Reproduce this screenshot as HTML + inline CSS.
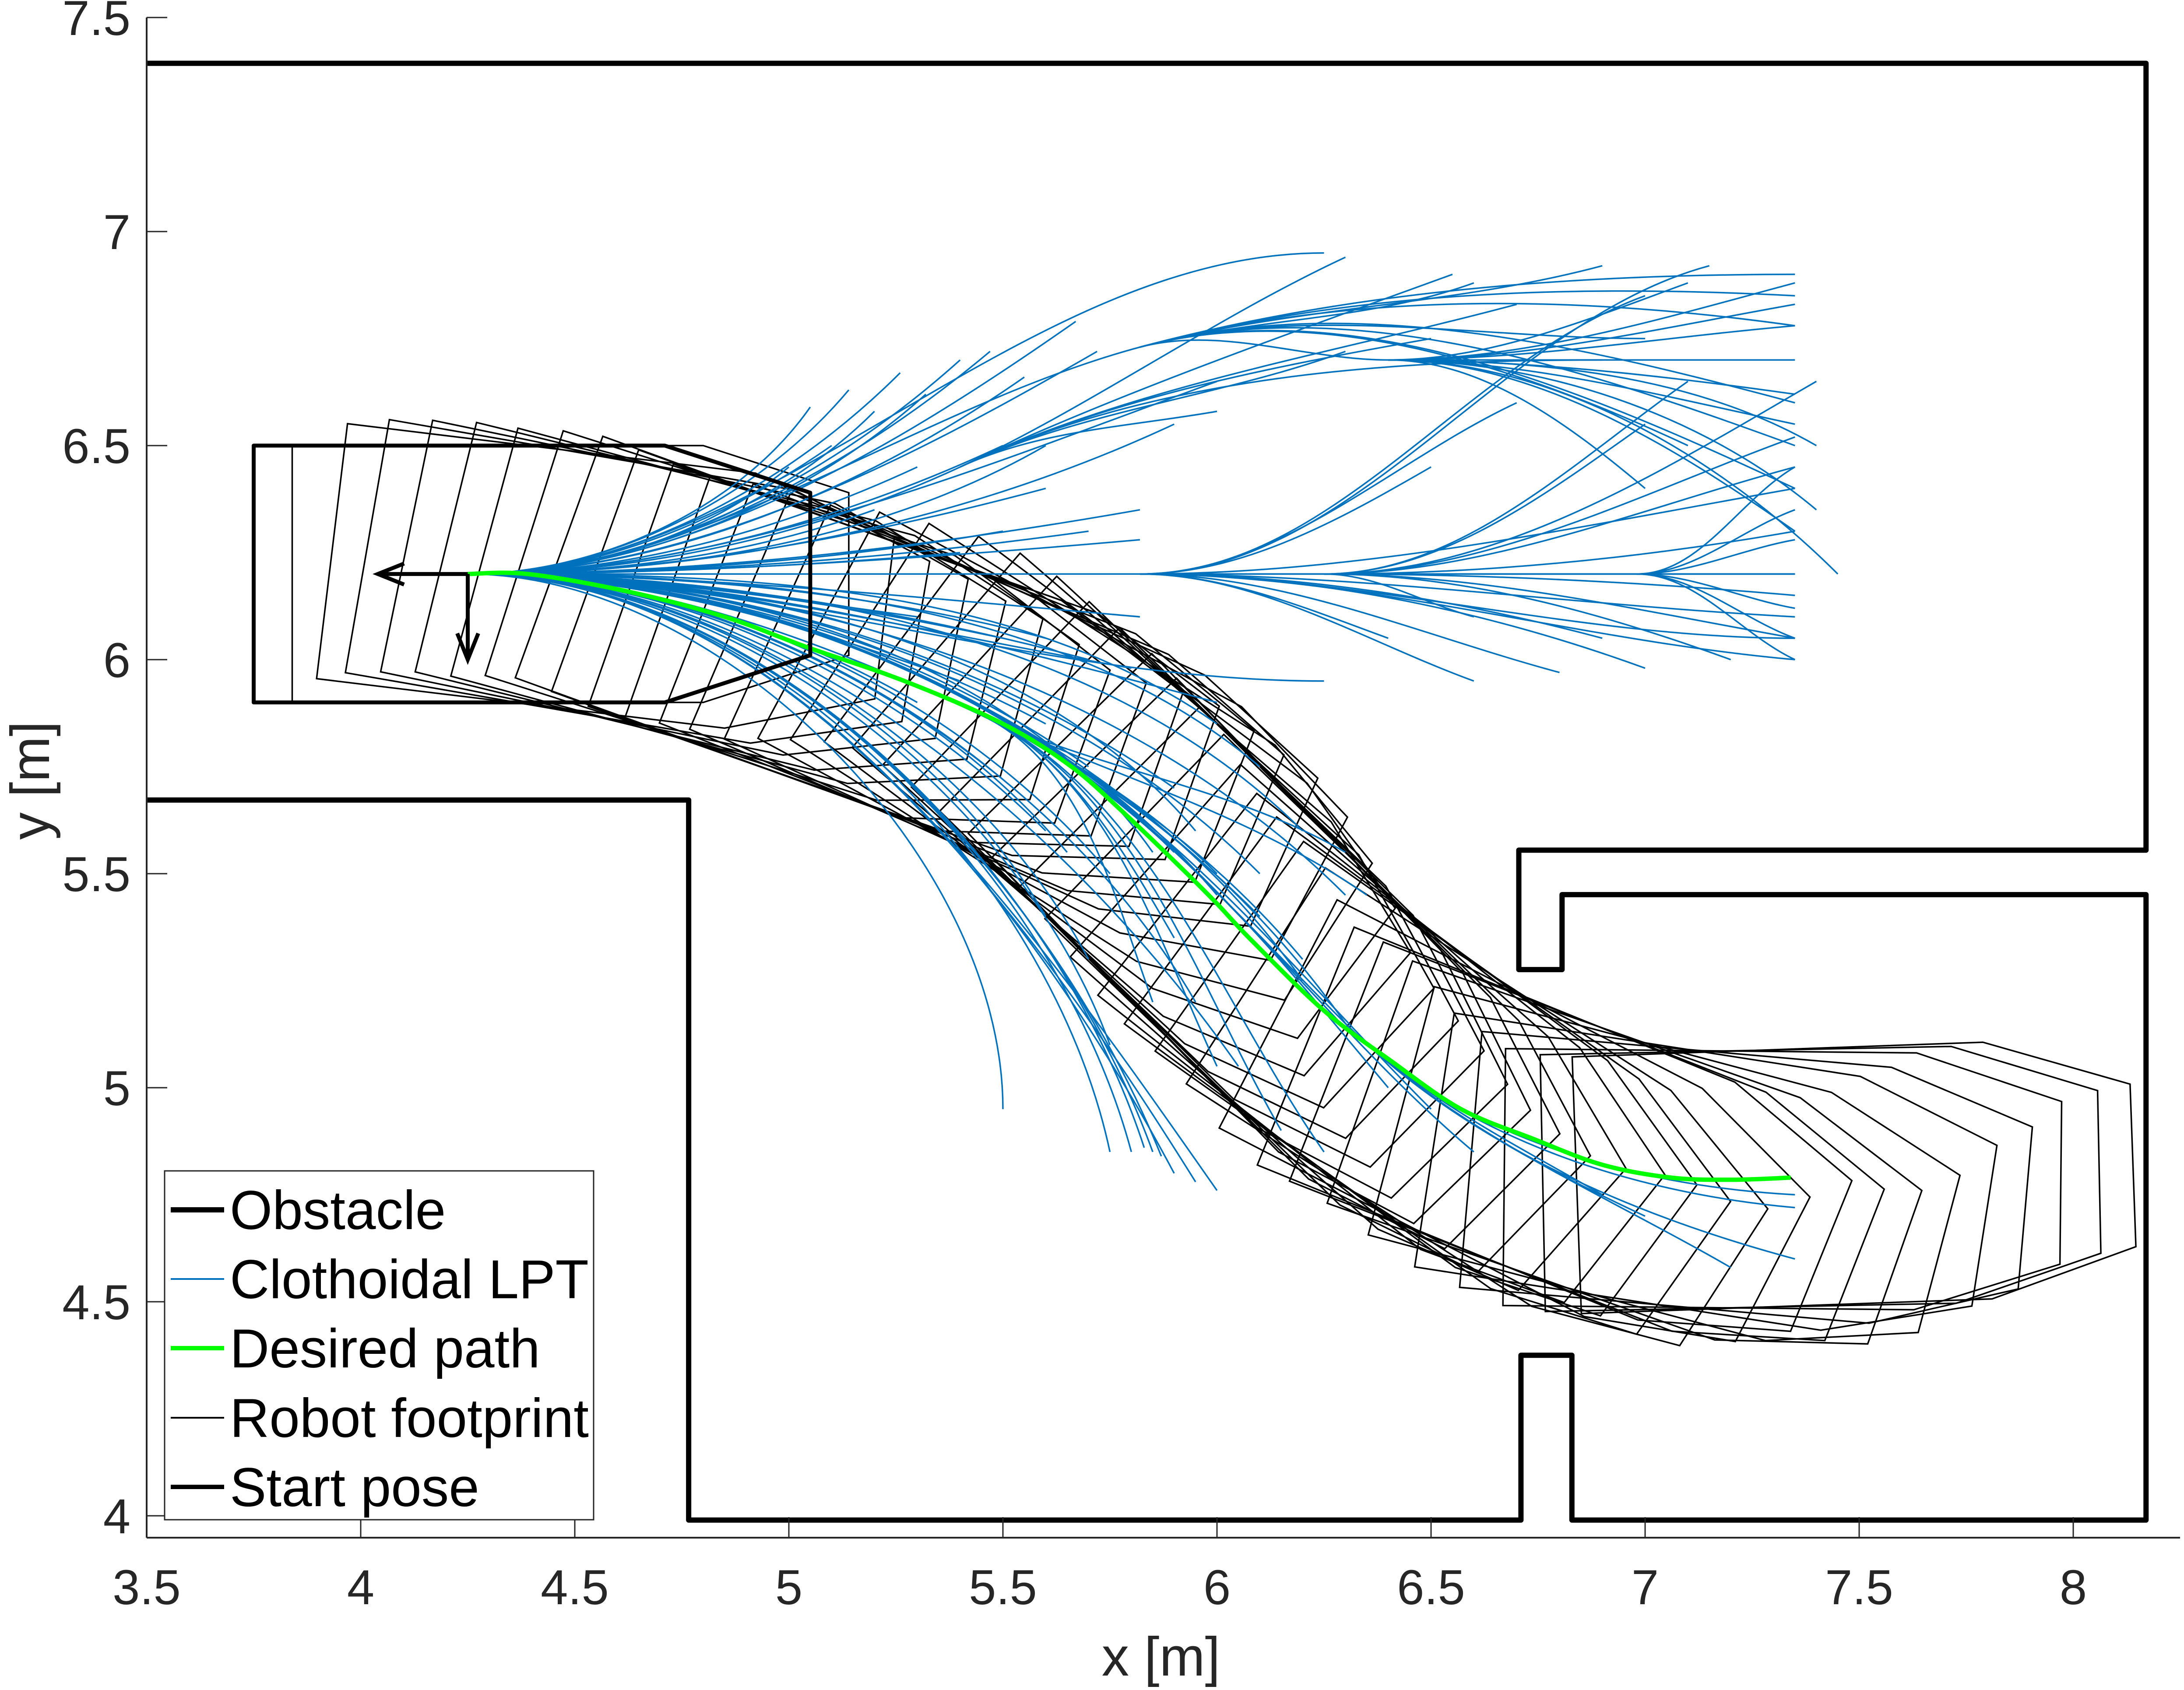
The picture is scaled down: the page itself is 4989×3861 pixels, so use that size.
<!DOCTYPE html>
<html><head><meta charset="utf-8"><style>
html,body{margin:0;padding:0;background:#fff;}
svg{display:block;}
text{font-family:"Liberation Sans",Arial,sans-serif;}
</style></head><body>
<svg id="chart" xmlns="http://www.w3.org/2000/svg" width="4989" height="3861" viewBox="0 0 4989 3861">
<rect width="4989" height="3861" fill="#fff"/>
<g id="plot"></g>
<g id="axes"></g>
<g id="legend">
<rect x="376" y="2675" width="980" height="797" fill="#fff" stroke="#262626" stroke-width="3"/>
<g><line x1="390" y1="2764" x2="512" y2="2764" stroke="#000" stroke-width="12"/><text x="525" y="2808" font-size="125">Obstacle</text></g>
<g><line x1="390" y1="2922" x2="512" y2="2922" stroke="#0072BD" stroke-width="4"/><text x="525" y="2966" font-size="125">Clothoidal LPT</text></g>
<g><line x1="390" y1="3080" x2="512" y2="3080" stroke="#00FF00" stroke-width="10"/><text x="525" y="3124" font-size="125">Desired path</text></g>
<g><line x1="390" y1="3239" x2="512" y2="3239" stroke="#000" stroke-width="4"/><text x="525" y="3283" font-size="125">Robot footprint</text></g>
<g><line x1="390" y1="3397" x2="512" y2="3397" stroke="#000" stroke-width="10"/><text x="525" y="3441" font-size="125">Start pose</text></g>
</g>
</svg>
<script>
// ---- data ----
const xTicks=[3.5,4,4.5,5,5.5,6,6.5,7,7.5,8];
const xTickLabels=["3.5","4","4.5","5","5.5","6","6.5","7","7.5","8"];
const yTicks=[4,4.5,5,5.5,6,6.5,7,7.5];
const yTickLabels=["4","4.5","5","5.5","6","6.5","7","7.5"];
const obsX=[3.5,8.17,8.17,6.705,6.705,6.806,6.806,8.17,8.17,6.829,6.829,6.71,6.71,4.766,4.766,3.5];
const obsY=[7.393,7.393,5.555,5.555,5.276,5.276,5.451,5.451,3.99,3.99,4.375,4.375,3.99,3.99,5.672,5.672];
const pathX=[4.25,4.39,4.62,4.85,5.04,5.27,5.50,5.66,5.79,5.92,6.00,6.08,6.25,6.41,6.57,6.74,6.90,7.06,7.20,7.34];
const pathY=[6.20,6.20,6.16,6.10,6.03,5.95,5.85,5.75,5.635,5.51,5.43,5.345,5.18,5.06,4.95,4.88,4.82,4.79,4.785,4.79];
const footS=[0.09,0.18,0.26,0.35,0.44,0.53,0.62,0.70,0.79,0.88,0.97,1.06,1.14,1.23,1.32,1.41,1.50,1.58,1.67,1.76,1.85,1.94,2.02,2.11,2.20,2.29,2.38,2.46,2.55,2.64,2.73,2.82,2.90,2.99,3.08,3.17,3.26,3.34,3.43,3.52];
const shapeX=[-0.5,-0.5,0.46,0.8,0.8,0.46];
const shapeY=[-0.3,0.3,0.3,0.19,-0.19,-0.3];
const startX=4.25, startY=6.2, startH=0;
const nodeX=[4.25,5.82,5.82,6.25,6.40,6.98,5.40,5.45,6.30];
const nodeY=[6.20,6.20,6.73,6.20,6.70,6.20,6.45,5.87,5.15];
const nodeH=[0,0,15,0,0,0,25,-25,-45];
const curveFrom=[
0,0,0,0,0,0,0,0,0,0,0,0,0,0,0,0,0,0,0,0,0,0,0,0,0,0,
0,0,0,0,0,0,0,0,0,0,0,0,0,0,0,0,0,0,0,0,0,0,0,0,0,
1,1,1,1,1,1,1,1,1,1,1,1,1,1,1,
2,2,2,2,2,2,2,2,2,2,2,
3,3,3,3,3,3,3,3,3,3,3,
4,4,4,4,4,4,4,4,4,4,4,4,
5,5,5,5,5,5,5,
6,6,6,6,6,6,6,
7,7,7,7,7,7,7,7,7,7,7,7,7,7,7,
8,8,8,8,8,8,
0,0,0,0,0,0,0,0,0,0,0,0,0,0,0,0,0,0,0,0];
const curveEndX=[
5.05,5.14,5.20,5.26,5.32,5.40,5.47,5.55,5.67,5.72,6.25,5.9,5.6,5.0,5.1,5.4,5.82,6.0,5.82,5.82,5.82,5.82,5.6,6.25,5.8,6.0,
5.45,5.3,5.5,5.6,5.5,5.75,5.80,5.83,5.85,5.87,5.9,5.95,6.0,5.75,5.95,6.05,5.6,5.7,6.2,6.1,6.0,6.3,5.95,5.85,6.2,
7.35,7.35,6.98,7.35,7.35,6.5,6.7,7.0,7.15,6.6,6.8,7.35,6.9,7.0,6.4,
6.9,7.35,7.35,7.35,7.35,7.0,7.1,7.35,6.40,7.35,6.6,
7.35,7.35,7.35,7.0,7.35,7.35,7.2,7.35,6.6,7.1,7.4,
7.35,7.35,7.35,7.35,7.35,7.4,7.4,7.35,7.45,7.35,7.1,7.0,
7.35,7.35,7.35,7.35,7.35,7.35,7.35,
6.3,6.55,6.3,6.7,6.0,6.5,6.9,
6.2,6.3,6.4,6.5,6.1,6.0,6.6,6.3,6.35,5.9,5.85,6.0,6.30,6.15,6.25,
7.35,7.35,7.35,7.2,6.9,7.0,
5.3,5.5,5.2,5.6,5.5,5.7,5.4,5.3,5.5,5.7,5.4,5.6,5.7,5.8,5.9,6.0,5.75,5.65,5.9,6.1];
const curveEndY=[
6.59,6.63,6.58,6.67,6.62,6.70,6.72,6.66,6.79,6.72,6.95,6.55,6.5,6.45,6.5,6.45,6.73,6.65,6.35,6.2,6.28,6.1,6.05,5.95,5.98,5.9,
5.87,5.9,5.72,5.6,4.95,4.85,4.85,4.86,4.85,4.84,4.80,4.78,4.76,5.1,5.2,5.05,5.4,5.3,5.6,5.75,5.85,5.45,5.6,5.55,5.25,
6.2,6.0,6.2,6.4,6.1,6.45,6.6,6.85,6.92,5.95,5.97,6.05,6.05,5.98,6.05,
6.92,6.9,6.85,6.6,6.5,6.75,6.5,6.4,6.70,6.78,6.88,
6.2,6.45,6.52,6.55,6.3,6.05,6.0,6.15,6.1,6.65,6.65,
6.88,6.83,6.7,6.62,6.55,6.5,6.35,6.3,6.2,6.78,6.88,6.4,
6.45,6.35,6.28,6.2,6.12,6.05,6.0,
6.94,6.9,6.72,6.83,6.58,6.75,6.7,
5.3,5.15,5.0,4.95,5.4,5.5,4.85,5.55,5.45,5.35,5.2,5.05,5.15,4.9,4.85,
4.72,4.75,4.6,4.58,4.75,4.7,
6.45,6.5,6.35,6.4,6.3,6.3,6.25,6.1,6.05,6.0,5.95,5.85,5.75,5.65,5.55,5.45,5.5,5.55,5.7,5.5];
const curveEndH=[
55,50,45,45,42,42,40,35,35,30,0,25,30,40,35,25,15,20,10,0,5,-5,-15,0,-10,-15,
-25,-30,-40,-45,-90,-78,-75,-72,-70,-68,-62,-58,-55,-70,-60,-55,-60,-62,-45,-40,-35,-45,-50,-55,-55,
0,-5,0,10,-3,30,25,20,15,-20,-15,0,-15,-20,-20,
15,0,-3,-15,-20,0,-25,-25,0,-8,20,
0,15,20,35,10,-10,-20,-5,-15,35,30,
15,10,0,-8,-12,-30,-40,-35,-45,5,20,-40,
30,20,10,0,-10,-20,-25,
25,20,20,15,10,10,0,
-50,-55,-50,-45,-45,-45,-40,-30,-35,-60,-70,-65,-45,-60,-55,
-5,-3,-15,-30,-30,-25,
25,25,20,15,10,8,5,-8,-12,-15,-20,-28,-35,-40,-45,-50,-50,-50,-35,-45];

// ---- axis functions ----
const X0=335, Y0=40, S=978;
function X(x){return X0+(x-3.5)*S;}
function Y(y){return Y0+(7.5-y)*S;}
const NS="http://www.w3.org/2000/svg";
function mk(tag,attrs,parent){const e=document.createElementNS(NS,tag);for(const k in attrs)e.setAttribute(k,attrs[k]);parent.appendChild(e);return e;}
const plot=document.getElementById('plot');
const axes=document.getElementById('axes');
const rad=d=>d*Math.PI/180;

// footprints (behind)
const gFoot=mk('g',{},plot);


let cum=[0];
for(let i=1;i<pathX.length;i++)cum.push(cum[i-1]+Math.hypot(pathX[i]-pathX[i-1],pathY[i]-pathY[i-1]));
function at(s){s=Math.max(0,Math.min(cum[cum.length-1],s));for(let i=1;i<cum.length;i++){if(s<=cum[i]){const t=(s-cum[i-1])/(cum[i]-cum[i-1]||1);return [pathX[i-1]+t*(pathX[i]-pathX[i-1]),pathY[i-1]+t*(pathY[i]-pathY[i-1])];}}return [pathX[pathX.length-1],pathY[pathY.length-1]];}
function fpPoints(px,py,h){let pts=[];for(let k=0;k<shapeX.length;k++){const c=Math.cos(h),s=Math.sin(h);pts.push(X(px+shapeX[k]*c-shapeY[k]*s).toFixed(1)+','+Y(py+shapeX[k]*s+shapeY[k]*c).toFixed(1));}return pts.join(' ');}
footS.forEach((s,i)=>{
  const p=at(s), a=at(s-0.1), b=at(s+0.1);
  let h=Math.atan2(b[1]-a[1],b[0]-a[0]);
  if(s<0.15)h=0;
  const e=mk('polygon',{points:fpPoints(p[0],p[1],h),fill:'none',stroke:'#000','stroke-width':3.5,'stroke-linejoin':'miter'},gFoot);
  
  
});

// blue trajectories
const gC=mk('g',{},plot);


curveFrom.forEach((n,i)=>{
  const x0=nodeX[n],y0=nodeY[n],h0=rad(nodeH[n]);
  const x1=curveEndX[i],y1=curveEndY[i],h1=rad(curveEndH[i]);
  const d=Math.hypot(x1-x0,y1-y0)/3;
  const c1x=x0+d*Math.cos(h0),c1y=y0+d*Math.sin(h0);
  const c2x=x1-d*Math.cos(h1),c2y=y1-d*Math.sin(h1);
  const e=mk('path',{d:`M${X(x0)},${Y(y0)} C${X(c1x)},${Y(c1y)} ${X(c2x)},${Y(c2y)} ${X(x1)},${Y(y1)}`,fill:'none',stroke:'#0072BD','stroke-width':3.5},gC);
  
  
});

// desired path
(function(){
  let d=`M${X(pathX[0])},${Y(pathY[0])}`;
  for(let i=0;i<pathX.length-1;i++){
    const p0=[pathX[Math.max(0,i-1)],pathY[Math.max(0,i-1)]],p1=[pathX[i],pathY[i]],p2=[pathX[i+1],pathY[i+1]],p3=[pathX[Math.min(pathX.length-1,i+2)],pathY[Math.min(pathX.length-1,i+2)]];
    const c1=[p1[0]+(p2[0]-p0[0])/6,p1[1]+(p2[1]-p0[1])/6],c2=[p2[0]-(p3[0]-p1[0])/6,p2[1]-(p3[1]-p1[1])/6];
    d+=` C${X(c1[0])},${Y(c1[1])} ${X(c2[0])},${Y(c2[1])} ${X(p2[0])},${Y(p2[1])}`;
  }
  const e=mk('path',{d:d,fill:'none',stroke:'#00FF00','stroke-width':10},plot);
  
  
})();

// obstacles
(function(){
  const pts=obsX.map((x,i)=>X(x)+','+Y(obsY[i])).join(' ');
  const e=mk('polyline',{points:pts,fill:'none',stroke:'#000','stroke-width':12,'stroke-linejoin':'round'},plot);
  
  
})();

// start pose
(function(){
  const g=mk('g',{},plot);
  
  
  mk('polygon',{points:fpPoints(startX,startY,startH),fill:'none',stroke:'#000','stroke-width':9,'stroke-linejoin':'round'},g);
  const sx=X(startX),sy=Y(startY);
  const lx=X(startX-0.21),dy=Y(startY-0.2);
  mk('path',{d:`M${sx},${sy} L${lx},${sy} M${lx+60},${sy-24} L${lx},${sy} L${lx+60},${sy+24} M${sx},${sy} L${sx},${dy} M${sx-24},${dy-60} L${sx},${dy} L${sx+24},${dy-60}`,fill:'none',stroke:'#000','stroke-width':9},g);
})();

// axes
mk('line',{x1:X0,y1:Y(7.5),x2:X0,y2:3513,stroke:'#262626','stroke-width':4},axes);
mk('line',{x1:X0,y1:3513,x2:4980,y2:3513,stroke:'#262626','stroke-width':4},axes);
xTicks.forEach((v,i)=>{
  mk('line',{x1:X(v),y1:3513,x2:X(v),y2:3466,stroke:'#262626','stroke-width':3},axes);
  const t=mk('text',{x:X(v),y:3665,'font-size':112,'text-anchor':'middle',fill:'#262626'},axes);
  t.textContent=xTickLabels[i];
  
  
});
yTicks.forEach((v,i)=>{
  mk('line',{x1:X0,y1:Y(v),x2:X0+47,y2:Y(v),stroke:'#262626','stroke-width':3},axes);
  const t=mk('text',{x:298,y:Y(v)+40,'font-size':112,'text-anchor':'end',fill:'#262626'},axes);
  t.textContent=yTickLabels[i];
  
  
});
const xl=mk('text',{x:2652,y:3828,'font-size':125,'text-anchor':'middle',fill:'#262626'},axes);
xl.textContent='x [m]';


const yl=mk('text',{x:0,y:0,'font-size':125,'text-anchor':'middle',fill:'#262626',transform:'translate(112,1783) rotate(-90)'},axes);
yl.textContent='y [m]';


</script>
</body></html>
